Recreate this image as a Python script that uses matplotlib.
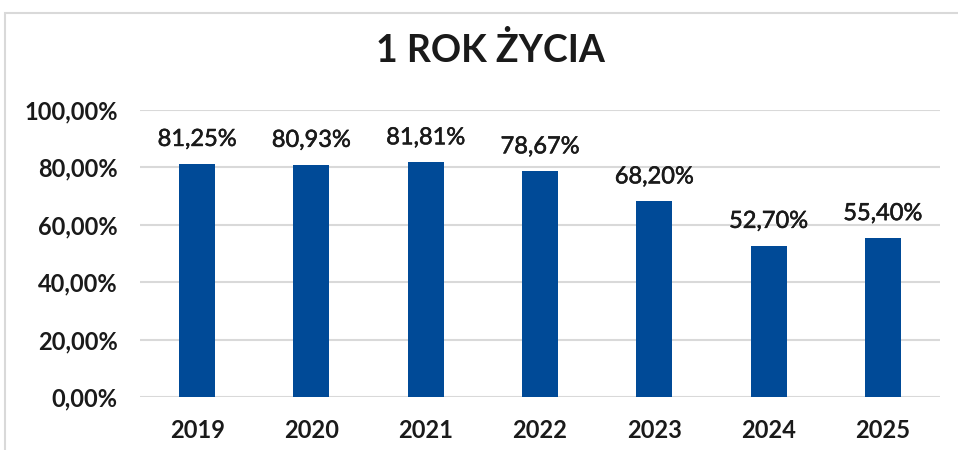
import matplotlib.pyplot as plt
import matplotlib.patheffects as pe
from matplotlib.patches import Rectangle
from matplotlib.ticker import FuncFormatter, MultipleLocator

years = ['2019', '2020', '2021', '2022', '2023', '2024', '2025']
values = [81.25, 80.93, 81.81, 78.67, 68.20, 52.70, 55.40]
labels = ['81,25%', '80,93%', '81,81%', '78,67%', '68,20%', '52,70%', '55,40%']

plt.rcParams['font.family'] = ['Lato', 'DejaVu Sans']

fig = plt.figure(figsize=(9.58, 4.5), dpi=100)
ax = fig.add_axes([140 / 958, 1 - 397 / 450, 800 / 958, 287 / 450])

# chart frame (light grey, cut at right/bottom edges like the screenshot)
fig.patches.append(Rectangle((5 / 958, -0.1), 1.1, 1 - 13 / 450 + 0.1,
                             transform=fig.transFigure, fill=False,
                             edgecolor='#d9d9d9', linewidth=1.5))

x = range(len(years))
ax.bar(x, values, width=0.315, color='#004A97', zorder=3)
for i, v in enumerate(values):
    ax.annotate(labels[i], (i, v), xytext=(0, 10), textcoords='offset points',
                ha='center', va='bottom', fontsize=17, color='#1a1a1a',
                path_effects=[pe.withStroke(linewidth=0.4, foreground='#1a1a1a')])

ax.set_xlim(-0.5, len(years) - 0.5)
ax.set_ylim(0, 100)
ax.yaxis.set_major_locator(MultipleLocator(20))
ax.yaxis.set_major_formatter(FuncFormatter(lambda v, p: f'{v:.2f}%'.replace('.', ',')))
ax.set_xticks(list(x))
ax.set_xticklabels(years)
ax.grid(axis='y', color='#d9d9d9', linewidth=1.5, zorder=0)
for s in ax.spines.values():
    s.set_visible(False)
ax.tick_params(length=0, labelsize=17, labelcolor='#1a1a1a')
ax.tick_params(axis='x', pad=16)
ax.tick_params(axis='y', pad=16)
for t in ax.get_xticklabels() + ax.get_yticklabels():
    t.set_fontweight('bold')

fig.text(490 / 958, 1 - 50 / 450, '1 ROK ŻYCIA', ha='center', va='center',
         fontsize=27, fontweight='bold', color='#1a1a1a')

fig.savefig('out.png', dpi=100)
